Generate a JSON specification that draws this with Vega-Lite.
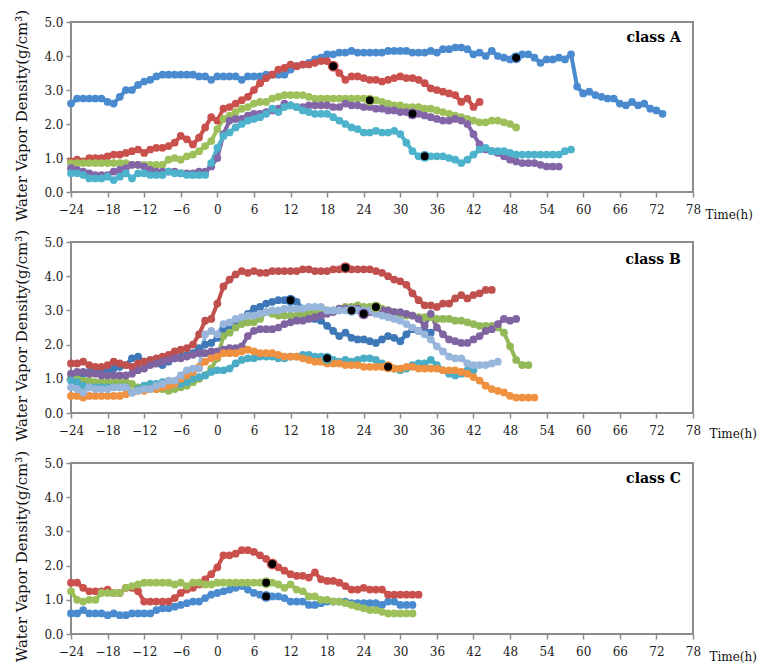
{
"$schema":"https://vega.github.io/schema/vega-lite/v6.json",
"padding":{"left":13,"top":8,"right":5,"bottom":0},
"config":{"font":"DejaVu Serif","view":{"stroke":"#8c8c8c","strokeWidth":2},
"axis":{"grid":false,"domain":false,"tickColor":"#8c8c8c","tickSize":5,"tickWidth":1.5,"labelFont":"DejaVu Serif","labelFontSize":12,"labelColor":"#1a1a1a","titleFont":"DejaVu Serif","titleFontWeight":"normal","titleColor":"#111","titleFontSize":12},
"axisX":{"labelPadding":7},"axisY":{"labelPadding":3}},
"datasets":{
"A":[
{"s":"1","t":-24,"v":2.6},{"s":"1","t":-23,"v":2.75},{"s":"1","t":-22,"v":2.75},{"s":"1","t":-21,"v":2.75},{"s":"1","t":-20,"v":2.75},{"s":"1","t":-19,"v":2.75},{"s":"1","t":-18,"v":2.65},{"s":"1","t":-17,"v":2.6},{"s":"1","t":-16,"v":2.8},{"s":"1","t":-15,"v":3.0},{"s":"1","t":-14,"v":3.0},{"s":"1","t":-13,"v":3.15},{"s":"1","t":-12,"v":3.25},{"s":"1","t":-11,"v":3.3},{"s":"1","t":-10,"v":3.4},{"s":"1","t":-9,"v":3.45},{"s":"1","t":-8,"v":3.45},{"s":"1","t":-7,"v":3.45},{"s":"1","t":-6,"v":3.45},{"s":"1","t":-5,"v":3.45},{"s":"1","t":-4,"v":3.45},{"s":"1","t":-3,"v":3.4},{"s":"1","t":-2,"v":3.4},{"s":"1","t":-1,"v":3.3},
{"s":"1","t":0,"v":3.4},{"s":"1","t":1,"v":3.4},{"s":"1","t":2,"v":3.4},{"s":"1","t":3,"v":3.4},{"s":"1","t":4,"v":3.3},{"s":"1","t":5,"v":3.4},{"s":"1","t":6,"v":3.4},{"s":"1","t":7,"v":3.4},{"s":"1","t":8,"v":3.45},{"s":"1","t":9,"v":3.45},{"s":"1","t":10,"v":3.45},{"s":"1","t":11,"v":3.45},
{"s":"1","t":12,"v":3.6},{"s":"1","t":13,"v":3.7},{"s":"1","t":14,"v":3.75},{"s":"1","t":15,"v":3.8},{"s":"1","t":16,"v":3.9},{"s":"1","t":17,"v":3.95},{"s":"1","t":18,"v":4.05},{"s":"1","t":19,"v":4.05},{"s":"1","t":20,"v":4.1},{"s":"1","t":21,"v":4.1},{"s":"1","t":22,"v":4.15},{"s":"1","t":23,"v":4.1},
{"s":"1","t":24,"v":4.1},{"s":"1","t":25,"v":4.1},{"s":"1","t":26,"v":4.1},{"s":"1","t":27,"v":4.1},{"s":"1","t":28,"v":4.15},{"s":"1","t":29,"v":4.15},{"s":"1","t":30,"v":4.15},{"s":"1","t":31,"v":4.15},{"s":"1","t":32,"v":4.1},{"s":"1","t":33,"v":4.1},{"s":"1","t":34,"v":4.1},{"s":"1","t":35,"v":4.15},
{"s":"1","t":36,"v":4.1},{"s":"1","t":37,"v":4.2},{"s":"1","t":38,"v":4.2},{"s":"1","t":39,"v":4.25},{"s":"1","t":40,"v":4.25},{"s":"1","t":41,"v":4.2},{"s":"1","t":42,"v":4.05},{"s":"1","t":43,"v":4.1},{"s":"1","t":44,"v":4.0},{"s":"1","t":45,"v":4.15},{"s":"1","t":46,"v":4.0},{"s":"1","t":47,"v":3.95},
{"s":"1","t":48,"v":3.9},{"s":"1","t":49,"v":3.95,"m":1},{"s":"1","t":50,"v":4.05},{"s":"1","t":51,"v":4.05},{"s":"1","t":52,"v":3.95},{"s":"1","t":53,"v":3.8},{"s":"1","t":54,"v":3.9},{"s":"1","t":55,"v":3.9},{"s":"1","t":56,"v":3.95},{"s":"1","t":57,"v":3.9},{"s":"1","t":58,"v":4.05},{"s":"1","t":59,"v":3.1},
{"s":"1","t":60,"v":2.9},{"s":"1","t":61,"v":2.95},{"s":"1","t":62,"v":2.85},{"s":"1","t":63,"v":2.8},{"s":"1","t":64,"v":2.75},{"s":"1","t":65,"v":2.75},{"s":"1","t":66,"v":2.6},{"s":"1","t":67,"v":2.55},{"s":"1","t":68,"v":2.65},{"s":"1","t":69,"v":2.55},{"s":"1","t":70,"v":2.6},{"s":"1","t":71,"v":2.45},{"s":"1","t":72,"v":2.4},{"s":"1","t":73,"v":2.3},
{"s":"2","t":-24,"v":0.9},{"s":"2","t":-23,"v":0.95},{"s":"2","t":-22,"v":0.9},{"s":"2","t":-21,"v":1.0},{"s":"2","t":-20,"v":1.0},{"s":"2","t":-19,"v":1.0},{"s":"2","t":-18,"v":1.05},{"s":"2","t":-17,"v":1.1},{"s":"2","t":-16,"v":1.1},{"s":"2","t":-15,"v":1.15},{"s":"2","t":-14,"v":1.2},{"s":"2","t":-13,"v":1.25},{"s":"2","t":-12,"v":1.15},{"s":"2","t":-11,"v":1.25},{"s":"2","t":-10,"v":1.3},{"s":"2","t":-9,"v":1.3},{"s":"2","t":-8,"v":1.35},{"s":"2","t":-7,"v":1.45},{"s":"2","t":-6,"v":1.65},{"s":"2","t":-5,"v":1.55},{"s":"2","t":-4,"v":1.4},{"s":"2","t":-3,"v":1.6},{"s":"2","t":-2,"v":1.9},{"s":"2","t":-1,"v":2.2},
{"s":"2","t":0,"v":2.1},{"s":"2","t":1,"v":2.45},{"s":"2","t":2,"v":2.5},{"s":"2","t":3,"v":2.6},{"s":"2","t":4,"v":2.7},{"s":"2","t":5,"v":2.8},{"s":"2","t":6,"v":3.0},{"s":"2","t":7,"v":3.2},{"s":"2","t":8,"v":3.35},{"s":"2","t":9,"v":3.45},{"s":"2","t":10,"v":3.6},{"s":"2","t":11,"v":3.65},
{"s":"2","t":12,"v":3.75},{"s":"2","t":13,"v":3.7},{"s":"2","t":14,"v":3.75},{"s":"2","t":15,"v":3.75},{"s":"2","t":16,"v":3.8},{"s":"2","t":17,"v":3.85},{"s":"2","t":18,"v":3.85},{"s":"2","t":19,"v":3.7,"m":1},{"s":"2","t":20,"v":3.5},{"s":"2","t":21,"v":3.3},{"s":"2","t":22,"v":3.4},{"s":"2","t":23,"v":3.4},
{"s":"2","t":24,"v":3.35},{"s":"2","t":25,"v":3.3},{"s":"2","t":26,"v":3.3},{"s":"2","t":27,"v":3.25},{"s":"2","t":28,"v":3.3},{"s":"2","t":29,"v":3.35},{"s":"2","t":30,"v":3.4},{"s":"2","t":31,"v":3.35},{"s":"2","t":32,"v":3.35},{"s":"2","t":33,"v":3.3},{"s":"2","t":34,"v":3.2},{"s":"2","t":35,"v":3.05},
{"s":"2","t":36,"v":3.0},{"s":"2","t":37,"v":2.95},{"s":"2","t":38,"v":2.9},{"s":"2","t":39,"v":2.85},{"s":"2","t":40,"v":2.65},{"s":"2","t":41,"v":2.75},{"s":"2","t":42,"v":2.5},{"s":"2","t":43,"v":2.65},
{"s":"3","t":-24,"v":0.85},{"s":"3","t":-23,"v":0.85},{"s":"3","t":-22,"v":0.85},{"s":"3","t":-21,"v":0.85},{"s":"3","t":-20,"v":0.85},{"s":"3","t":-19,"v":0.85},{"s":"3","t":-18,"v":0.85},{"s":"3","t":-17,"v":0.85},{"s":"3","t":-16,"v":0.85},{"s":"3","t":-15,"v":0.85},{"s":"3","t":-14,"v":0.8},{"s":"3","t":-13,"v":0.8},{"s":"3","t":-12,"v":0.8},{"s":"3","t":-11,"v":0.8},{"s":"3","t":-10,"v":0.8},{"s":"3","t":-9,"v":0.8},{"s":"3","t":-8,"v":0.95},{"s":"3","t":-7,"v":1.0},{"s":"3","t":-6,"v":0.95},{"s":"3","t":-5,"v":1.05},{"s":"3","t":-4,"v":1.1},{"s":"3","t":-3,"v":1.2},{"s":"3","t":-2,"v":1.35},{"s":"3","t":-1,"v":1.5},
{"s":"3","t":0,"v":1.85},{"s":"3","t":1,"v":2.15},{"s":"3","t":2,"v":2.25},{"s":"3","t":3,"v":2.35},{"s":"3","t":4,"v":2.45},{"s":"3","t":5,"v":2.5},{"s":"3","t":6,"v":2.6},{"s":"3","t":7,"v":2.65},{"s":"3","t":8,"v":2.65},{"s":"3","t":9,"v":2.75},{"s":"3","t":10,"v":2.8},{"s":"3","t":11,"v":2.85},
{"s":"3","t":12,"v":2.85},{"s":"3","t":13,"v":2.85},{"s":"3","t":14,"v":2.85},{"s":"3","t":15,"v":2.8},{"s":"3","t":16,"v":2.75},{"s":"3","t":17,"v":2.75},{"s":"3","t":18,"v":2.75},{"s":"3","t":19,"v":2.75},{"s":"3","t":20,"v":2.75},{"s":"3","t":21,"v":2.75},{"s":"3","t":22,"v":2.75},{"s":"3","t":23,"v":2.75},
{"s":"3","t":24,"v":2.75},{"s":"3","t":25,"v":2.7,"m":1},{"s":"3","t":26,"v":2.7},{"s":"3","t":27,"v":2.65},{"s":"3","t":28,"v":2.6},{"s":"3","t":29,"v":2.55},{"s":"3","t":30,"v":2.55},{"s":"3","t":31,"v":2.5},{"s":"3","t":32,"v":2.5},{"s":"3","t":33,"v":2.5},{"s":"3","t":34,"v":2.45},{"s":"3","t":35,"v":2.45},
{"s":"3","t":36,"v":2.4},{"s":"3","t":37,"v":2.35},{"s":"3","t":38,"v":2.3},{"s":"3","t":39,"v":2.25},{"s":"3","t":40,"v":2.2},{"s":"3","t":41,"v":2.15},{"s":"3","t":42,"v":2.1},{"s":"3","t":43,"v":2.05},{"s":"3","t":44,"v":2.05},{"s":"3","t":45,"v":2.1},{"s":"3","t":46,"v":2.1},{"s":"3","t":47,"v":2.05},{"s":"3","t":48,"v":2.0},{"s":"3","t":49,"v":1.9},
{"s":"4","t":-24,"v":0.7},{"s":"4","t":-23,"v":0.65},{"s":"4","t":-22,"v":0.6},{"s":"4","t":-21,"v":0.55},{"s":"4","t":-20,"v":0.5},{"s":"4","t":-19,"v":0.5},{"s":"4","t":-18,"v":0.5},{"s":"4","t":-17,"v":0.6},{"s":"4","t":-16,"v":0.65},{"s":"4","t":-15,"v":0.7},{"s":"4","t":-14,"v":0.8},{"s":"4","t":-13,"v":0.8},{"s":"4","t":-12,"v":0.75},{"s":"4","t":-11,"v":0.65},{"s":"4","t":-10,"v":0.6},{"s":"4","t":-9,"v":0.6},{"s":"4","t":-8,"v":0.6},{"s":"4","t":-7,"v":0.6},{"s":"4","t":-6,"v":0.55},{"s":"4","t":-5,"v":0.55},{"s":"4","t":-4,"v":0.55},{"s":"4","t":-3,"v":0.6},{"s":"4","t":-2,"v":0.6},{"s":"4","t":-1,"v":0.75},
{"s":"4","t":0,"v":1.0},{"s":"4","t":1,"v":1.7},{"s":"4","t":2,"v":2.1},{"s":"4","t":3,"v":2.15},{"s":"4","t":4,"v":2.15},{"s":"4","t":5,"v":2.25},{"s":"4","t":6,"v":2.3},{"s":"4","t":7,"v":2.3},{"s":"4","t":8,"v":2.35},{"s":"4","t":9,"v":2.4},{"s":"4","t":10,"v":2.45},{"s":"4","t":11,"v":2.6},
{"s":"4","t":12,"v":2.55},{"s":"4","t":13,"v":2.5},{"s":"4","t":14,"v":2.5},{"s":"4","t":15,"v":2.55},{"s":"4","t":16,"v":2.55},{"s":"4","t":17,"v":2.55},{"s":"4","t":18,"v":2.55},{"s":"4","t":19,"v":2.5},{"s":"4","t":20,"v":2.5},{"s":"4","t":21,"v":2.6},{"s":"4","t":22,"v":2.55},{"s":"4","t":23,"v":2.55},
{"s":"4","t":24,"v":2.5},{"s":"4","t":25,"v":2.5},{"s":"4","t":26,"v":2.45},{"s":"4","t":27,"v":2.45},{"s":"4","t":28,"v":2.4},{"s":"4","t":29,"v":2.4},{"s":"4","t":30,"v":2.35},{"s":"4","t":31,"v":2.35},{"s":"4","t":32,"v":2.3,"m":1},{"s":"4","t":33,"v":2.3},{"s":"4","t":34,"v":2.25},{"s":"4","t":35,"v":2.2},
{"s":"4","t":36,"v":2.15},{"s":"4","t":37,"v":2.1},{"s":"4","t":38,"v":2.1},{"s":"4","t":39,"v":2.15},{"s":"4","t":40,"v":2.1},{"s":"4","t":41,"v":2.0},{"s":"4","t":42,"v":1.7},{"s":"4","t":43,"v":1.4},{"s":"4","t":44,"v":1.25},{"s":"4","t":45,"v":1.2},{"s":"4","t":46,"v":1.15},{"s":"4","t":47,"v":1.05},
{"s":"4","t":48,"v":0.95},{"s":"4","t":49,"v":0.9},{"s":"4","t":50,"v":0.85},{"s":"4","t":51,"v":0.85},{"s":"4","t":52,"v":0.85},{"s":"4","t":53,"v":0.8},{"s":"4","t":54,"v":0.75},{"s":"4","t":55,"v":0.75},{"s":"4","t":56,"v":0.75},
{"s":"5","t":-24,"v":0.55},{"s":"5","t":-23,"v":0.55},{"s":"5","t":-22,"v":0.5},{"s":"5","t":-21,"v":0.4},{"s":"5","t":-20,"v":0.4},{"s":"5","t":-19,"v":0.4},{"s":"5","t":-18,"v":0.45},{"s":"5","t":-17,"v":0.35},{"s":"5","t":-16,"v":0.45},{"s":"5","t":-15,"v":0.55},{"s":"5","t":-14,"v":0.4},{"s":"5","t":-13,"v":0.55},{"s":"5","t":-12,"v":0.55},{"s":"5","t":-11,"v":0.5},{"s":"5","t":-10,"v":0.5},{"s":"5","t":-9,"v":0.5},{"s":"5","t":-8,"v":0.6},{"s":"5","t":-7,"v":0.55},{"s":"5","t":-6,"v":0.55},{"s":"5","t":-5,"v":0.5},{"s":"5","t":-4,"v":0.5},{"s":"5","t":-3,"v":0.5},{"s":"5","t":-2,"v":0.5},{"s":"5","t":-1,"v":0.85},
{"s":"5","t":0,"v":1.3},{"s":"5","t":1,"v":1.65},{"s":"5","t":2,"v":1.75},{"s":"5","t":3,"v":1.9},{"s":"5","t":4,"v":2.0},{"s":"5","t":5,"v":2.1},{"s":"5","t":6,"v":2.15},{"s":"5","t":7,"v":2.2},{"s":"5","t":8,"v":2.3},{"s":"5","t":9,"v":2.45},{"s":"5","t":10,"v":2.35},{"s":"5","t":11,"v":2.5},
{"s":"5","t":12,"v":2.55},{"s":"5","t":13,"v":2.5},{"s":"5","t":14,"v":2.4},{"s":"5","t":15,"v":2.35},{"s":"5","t":16,"v":2.3},{"s":"5","t":17,"v":2.3},{"s":"5","t":18,"v":2.3},{"s":"5","t":19,"v":2.2},{"s":"5","t":20,"v":2.1},{"s":"5","t":21,"v":2.0},{"s":"5","t":22,"v":1.9},{"s":"5","t":23,"v":1.85},
{"s":"5","t":24,"v":1.75},{"s":"5","t":25,"v":1.75},{"s":"5","t":26,"v":1.8},{"s":"5","t":27,"v":1.75},{"s":"5","t":28,"v":1.75},{"s":"5","t":29,"v":1.8},{"s":"5","t":30,"v":1.7},{"s":"5","t":31,"v":1.45},{"s":"5","t":32,"v":1.2},{"s":"5","t":33,"v":1.05},{"s":"5","t":34,"v":1.05,"m":1},{"s":"5","t":35,"v":1.05},
{"s":"5","t":36,"v":1.05},{"s":"5","t":37,"v":1.05},{"s":"5","t":38,"v":1.0},{"s":"5","t":39,"v":0.95},{"s":"5","t":40,"v":0.85},{"s":"5","t":41,"v":0.95},{"s":"5","t":42,"v":1.1},{"s":"5","t":43,"v":1.25},{"s":"5","t":44,"v":1.3},{"s":"5","t":45,"v":1.2},{"s":"5","t":46,"v":1.2},{"s":"5","t":47,"v":1.2},
{"s":"5","t":48,"v":1.15},{"s":"5","t":49,"v":1.1},{"s":"5","t":50,"v":1.1},{"s":"5","t":51,"v":1.1},{"s":"5","t":52,"v":1.1},{"s":"5","t":53,"v":1.1},{"s":"5","t":54,"v":1.1},{"s":"5","t":55,"v":1.1},{"s":"5","t":56,"v":1.1},{"s":"5","t":57,"v":1.2},{"s":"5","t":58,"v":1.25}
],
"B":[
{"s":"1","t":-24,"v":1.0},{"s":"1","t":-23,"v":1.1},{"s":"1","t":-22,"v":1.15},{"s":"1","t":-21,"v":1.2},{"s":"1","t":-20,"v":1.2},{"s":"1","t":-19,"v":1.25},{"s":"1","t":-18,"v":1.25},{"s":"1","t":-17,"v":1.3},{"s":"1","t":-16,"v":1.35},{"s":"1","t":-15,"v":1.4},{"s":"1","t":-14,"v":1.6},{"s":"1","t":-13,"v":1.65},{"s":"1","t":-12,"v":1.5},{"s":"1","t":-11,"v":1.45},{"s":"1","t":-10,"v":1.45},{"s":"1","t":-9,"v":1.4},{"s":"1","t":-8,"v":1.5},{"s":"1","t":-7,"v":1.6},{"s":"1","t":-6,"v":1.65},{"s":"1","t":-5,"v":1.7},{"s":"1","t":-4,"v":1.75},{"s":"1","t":-3,"v":1.9},{"s":"1","t":-2,"v":2.0},{"s":"1","t":-1,"v":2.05},
{"s":"1","t":0,"v":2.2},{"s":"1","t":1,"v":2.45},{"s":"1","t":2,"v":2.55},{"s":"1","t":3,"v":2.65},{"s":"1","t":4,"v":2.75},{"s":"1","t":5,"v":2.9},{"s":"1","t":6,"v":3.05},{"s":"1","t":7,"v":3.1},{"s":"1","t":8,"v":3.2},{"s":"1","t":9,"v":3.25},{"s":"1","t":10,"v":3.3},{"s":"1","t":11,"v":3.3},
{"s":"1","t":12,"v":3.3,"m":1},{"s":"1","t":13,"v":3.25},{"s":"1","t":14,"v":3.05},{"s":"1","t":15,"v":2.85},{"s":"1","t":16,"v":2.75},{"s":"1","t":17,"v":2.7},{"s":"1","t":18,"v":2.55},{"s":"1","t":19,"v":2.4},{"s":"1","t":20,"v":2.25},{"s":"1","t":21,"v":2.35},{"s":"1","t":22,"v":2.2},{"s":"1","t":23,"v":2.15},
{"s":"1","t":24,"v":2.15},{"s":"1","t":25,"v":2.1},{"s":"1","t":26,"v":2.05},{"s":"1","t":27,"v":2.15},{"s":"1","t":28,"v":2.25},{"s":"1","t":29,"v":2.2},{"s":"1","t":30,"v":2.1},{"s":"1","t":31,"v":2.3},{"s":"1","t":32,"v":2.45},{"s":"1","t":33,"v":2.4},{"s":"1","t":34,"v":2.4},{"s":"1","t":35,"v":2.35},
{"s":"2","t":-24,"v":1.45},{"s":"2","t":-23,"v":1.45},{"s":"2","t":-22,"v":1.5},{"s":"2","t":-21,"v":1.4},{"s":"2","t":-20,"v":1.35},{"s":"2","t":-19,"v":1.35},{"s":"2","t":-18,"v":1.4},{"s":"2","t":-17,"v":1.5},{"s":"2","t":-16,"v":1.45},{"s":"2","t":-15,"v":1.4},{"s":"2","t":-14,"v":1.35},{"s":"2","t":-13,"v":1.45},{"s":"2","t":-12,"v":1.5},{"s":"2","t":-11,"v":1.55},{"s":"2","t":-10,"v":1.6},{"s":"2","t":-9,"v":1.65},{"s":"2","t":-8,"v":1.7},{"s":"2","t":-7,"v":1.8},{"s":"2","t":-6,"v":1.85},{"s":"2","t":-5,"v":1.9},{"s":"2","t":-4,"v":2.0},{"s":"2","t":-3,"v":2.3},{"s":"2","t":-2,"v":2.7},{"s":"2","t":-1,"v":2.75},
{"s":"2","t":0,"v":3.2},{"s":"2","t":1,"v":3.7},{"s":"2","t":2,"v":3.9},{"s":"2","t":3,"v":4.05},{"s":"2","t":4,"v":4.15},{"s":"2","t":5,"v":4.1},{"s":"2","t":6,"v":4.15},{"s":"2","t":7,"v":4.1},{"s":"2","t":8,"v":4.1},{"s":"2","t":9,"v":4.15},{"s":"2","t":10,"v":4.15},{"s":"2","t":11,"v":4.15},
{"s":"2","t":12,"v":4.15},{"s":"2","t":13,"v":4.15},{"s":"2","t":14,"v":4.2},{"s":"2","t":15,"v":4.2},{"s":"2","t":16,"v":4.15},{"s":"2","t":17,"v":4.15},{"s":"2","t":18,"v":4.15},{"s":"2","t":19,"v":4.2},{"s":"2","t":20,"v":4.2},{"s":"2","t":21,"v":4.25,"m":1},{"s":"2","t":22,"v":4.2},{"s":"2","t":23,"v":4.2},
{"s":"2","t":24,"v":4.2},{"s":"2","t":25,"v":4.2},{"s":"2","t":26,"v":4.15},{"s":"2","t":27,"v":4.1},{"s":"2","t":28,"v":4.0},{"s":"2","t":29,"v":3.9},{"s":"2","t":30,"v":3.85},{"s":"2","t":31,"v":3.75},{"s":"2","t":32,"v":3.5},{"s":"2","t":33,"v":3.3},{"s":"2","t":34,"v":3.15},{"s":"2","t":35,"v":3.15},
{"s":"2","t":36,"v":3.1},{"s":"2","t":37,"v":3.2},{"s":"2","t":38,"v":3.2},{"s":"2","t":39,"v":3.35},{"s":"2","t":40,"v":3.45},{"s":"2","t":41,"v":3.35},{"s":"2","t":42,"v":3.45},{"s":"2","t":43,"v":3.5},{"s":"2","t":44,"v":3.6},{"s":"2","t":45,"v":3.6},
{"s":"3","t":-24,"v":1.0},{"s":"3","t":-23,"v":1.0},{"s":"3","t":-22,"v":0.95},{"s":"3","t":-21,"v":0.95},{"s":"3","t":-20,"v":0.9},{"s":"3","t":-19,"v":0.9},{"s":"3","t":-18,"v":0.9},{"s":"3","t":-17,"v":0.9},{"s":"3","t":-16,"v":0.9},{"s":"3","t":-15,"v":0.9},{"s":"3","t":-14,"v":0.85},{"s":"3","t":-13,"v":0.75},{"s":"3","t":-12,"v":0.7},{"s":"3","t":-11,"v":0.7},{"s":"3","t":-10,"v":0.7},{"s":"3","t":-9,"v":0.7},{"s":"3","t":-8,"v":0.65},{"s":"3","t":-7,"v":0.7},{"s":"3","t":-6,"v":0.75},{"s":"3","t":-5,"v":0.8},{"s":"3","t":-4,"v":0.9},{"s":"3","t":-3,"v":1.0},{"s":"3","t":-2,"v":1.1},{"s":"3","t":-1,"v":1.3},
{"s":"3","t":0,"v":1.6},{"s":"3","t":1,"v":2.25},{"s":"3","t":2,"v":2.35},{"s":"3","t":3,"v":2.5},{"s":"3","t":4,"v":2.6},{"s":"3","t":5,"v":2.65},{"s":"3","t":6,"v":2.65},{"s":"3","t":7,"v":2.75},{"s":"3","t":8,"v":2.95},{"s":"3","t":9,"v":2.9},{"s":"3","t":10,"v":2.85},{"s":"3","t":11,"v":2.85},
{"s":"3","t":12,"v":2.85},{"s":"3","t":13,"v":2.85},{"s":"3","t":14,"v":2.9},{"s":"3","t":15,"v":2.95},{"s":"3","t":16,"v":2.95},{"s":"3","t":17,"v":3.0},{"s":"3","t":18,"v":3.0},{"s":"3","t":19,"v":3.0},{"s":"3","t":20,"v":3.05},{"s":"3","t":21,"v":3.1},{"s":"3","t":22,"v":3.1},{"s":"3","t":23,"v":3.15},
{"s":"3","t":24,"v":3.1},{"s":"3","t":25,"v":3.1},{"s":"3","t":26,"v":3.1,"m":1},{"s":"3","t":27,"v":3.05},{"s":"3","t":28,"v":3.0},{"s":"3","t":29,"v":2.95},{"s":"3","t":30,"v":2.9},{"s":"3","t":31,"v":2.85},{"s":"3","t":32,"v":2.85},{"s":"3","t":33,"v":2.8},{"s":"3","t":34,"v":2.8},{"s":"3","t":35,"v":2.8},
{"s":"3","t":36,"v":2.75},{"s":"3","t":37,"v":2.75},{"s":"3","t":38,"v":2.75},{"s":"3","t":39,"v":2.7},{"s":"3","t":40,"v":2.7},{"s":"3","t":41,"v":2.65},{"s":"3","t":42,"v":2.6},{"s":"3","t":43,"v":2.55},{"s":"3","t":44,"v":2.55},{"s":"3","t":45,"v":2.55},{"s":"3","t":46,"v":2.5},{"s":"3","t":47,"v":2.35},
{"s":"3","t":48,"v":1.95},{"s":"3","t":49,"v":1.55},{"s":"3","t":50,"v":1.4},{"s":"3","t":51,"v":1.4},
{"s":"4","t":-24,"v":1.15},{"s":"4","t":-23,"v":1.2},{"s":"4","t":-22,"v":1.2},{"s":"4","t":-21,"v":1.15},{"s":"4","t":-20,"v":1.15},{"s":"4","t":-19,"v":1.1},{"s":"4","t":-18,"v":1.1},{"s":"4","t":-17,"v":1.1},{"s":"4","t":-16,"v":1.1},{"s":"4","t":-15,"v":1.1},{"s":"4","t":-14,"v":1.15},{"s":"4","t":-13,"v":1.25},{"s":"4","t":-12,"v":1.3},{"s":"4","t":-11,"v":1.4},{"s":"4","t":-10,"v":1.45},{"s":"4","t":-9,"v":1.5},{"s":"4","t":-8,"v":1.55},{"s":"4","t":-7,"v":1.6},{"s":"4","t":-6,"v":1.6},{"s":"4","t":-5,"v":1.65},{"s":"4","t":-4,"v":1.7},{"s":"4","t":-3,"v":1.75},{"s":"4","t":-2,"v":1.75},{"s":"4","t":-1,"v":1.8},
{"s":"4","t":0,"v":1.8},{"s":"4","t":1,"v":1.85},{"s":"4","t":2,"v":1.9},{"s":"4","t":3,"v":1.9},{"s":"4","t":4,"v":1.95},{"s":"4","t":5,"v":2.25},{"s":"4","t":6,"v":2.4},{"s":"4","t":7,"v":2.45},{"s":"4","t":8,"v":2.45},{"s":"4","t":9,"v":2.45},{"s":"4","t":10,"v":2.5},{"s":"4","t":11,"v":2.6},
{"s":"4","t":12,"v":2.65},{"s":"4","t":13,"v":2.7},{"s":"4","t":14,"v":2.7},{"s":"4","t":15,"v":2.75},{"s":"4","t":16,"v":2.8},{"s":"4","t":17,"v":2.85},{"s":"4","t":18,"v":2.9},{"s":"4","t":19,"v":2.95},{"s":"4","t":20,"v":3.05},{"s":"4","t":21,"v":3.05},{"s":"4","t":22,"v":3.05},{"s":"4","t":23,"v":3.05},
{"s":"4","t":24,"v":2.9,"m":1},{"s":"4","t":25,"v":2.95},{"s":"4","t":26,"v":3.0},{"s":"4","t":27,"v":3.0},{"s":"4","t":28,"v":3.0},{"s":"4","t":29,"v":2.95},{"s":"4","t":30,"v":2.95},{"s":"4","t":31,"v":2.9},{"s":"4","t":32,"v":2.85},{"s":"4","t":33,"v":2.75},{"s":"4","t":34,"v":2.55},{"s":"4","t":35,"v":2.9},
{"s":"4","t":36,"v":2.5},{"s":"4","t":37,"v":2.3},{"s":"4","t":38,"v":2.15},{"s":"4","t":39,"v":2.1},{"s":"4","t":40,"v":2.05},{"s":"4","t":41,"v":2.05},{"s":"4","t":42,"v":2.15},{"s":"4","t":43,"v":2.25},{"s":"4","t":44,"v":2.4},{"s":"4","t":45,"v":2.45},{"s":"4","t":46,"v":2.6},{"s":"4","t":47,"v":2.75},{"s":"4","t":48,"v":2.7},{"s":"4","t":49,"v":2.75},
{"s":"5","t":-24,"v":0.95},{"s":"5","t":-23,"v":0.9},{"s":"5","t":-22,"v":0.8},{"s":"5","t":-21,"v":0.75},{"s":"5","t":-20,"v":0.75},{"s":"5","t":-19,"v":0.75},{"s":"5","t":-18,"v":0.75},{"s":"5","t":-17,"v":0.75},{"s":"5","t":-16,"v":0.75},{"s":"5","t":-15,"v":0.75},{"s":"5","t":-14,"v":0.6},{"s":"5","t":-13,"v":0.7},{"s":"5","t":-12,"v":0.8},{"s":"5","t":-11,"v":0.85},{"s":"5","t":-10,"v":0.85},{"s":"5","t":-9,"v":0.9},{"s":"5","t":-8,"v":0.9},{"s":"5","t":-7,"v":0.85},{"s":"5","t":-6,"v":0.85},{"s":"5","t":-5,"v":0.9},{"s":"5","t":-4,"v":1.0},{"s":"5","t":-3,"v":1.05},{"s":"5","t":-2,"v":1.1},{"s":"5","t":-1,"v":1.2},
{"s":"5","t":0,"v":1.25},{"s":"5","t":1,"v":1.25},{"s":"5","t":2,"v":1.3},{"s":"5","t":3,"v":1.45},{"s":"5","t":4,"v":1.55},{"s":"5","t":5,"v":1.6},{"s":"5","t":6,"v":1.6},{"s":"5","t":7,"v":1.65},{"s":"5","t":8,"v":1.65},{"s":"5","t":9,"v":1.65},{"s":"5","t":10,"v":1.6},{"s":"5","t":11,"v":1.6},
{"s":"5","t":12,"v":1.65},{"s":"5","t":13,"v":1.65},{"s":"5","t":14,"v":1.7},{"s":"5","t":15,"v":1.7},{"s":"5","t":16,"v":1.65},{"s":"5","t":17,"v":1.65},{"s":"5","t":18,"v":1.6,"m":1},{"s":"5","t":19,"v":1.55},{"s":"5","t":20,"v":1.5},{"s":"5","t":21,"v":1.55},{"s":"5","t":22,"v":1.5},{"s":"5","t":23,"v":1.55},
{"s":"5","t":24,"v":1.6},{"s":"5","t":25,"v":1.6},{"s":"5","t":26,"v":1.55},{"s":"5","t":27,"v":1.45},{"s":"5","t":28,"v":1.35},{"s":"5","t":29,"v":1.3},{"s":"5","t":30,"v":1.25},{"s":"5","t":31,"v":1.3},{"s":"5","t":32,"v":1.4},{"s":"5","t":33,"v":1.45},{"s":"5","t":34,"v":1.45},{"s":"5","t":35,"v":1.55},
{"s":"5","t":36,"v":1.4},{"s":"5","t":37,"v":1.25},{"s":"5","t":38,"v":1.15},{"s":"5","t":39,"v":1.1},{"s":"5","t":40,"v":1.15},{"s":"5","t":41,"v":1.25},{"s":"5","t":42,"v":1.25},
{"s":"6","t":-24,"v":0.5},{"s":"6","t":-23,"v":0.5},{"s":"6","t":-22,"v":0.45},{"s":"6","t":-21,"v":0.5},{"s":"6","t":-20,"v":0.5},{"s":"6","t":-19,"v":0.5},{"s":"6","t":-18,"v":0.5},{"s":"6","t":-17,"v":0.5},{"s":"6","t":-16,"v":0.5},{"s":"6","t":-15,"v":0.55},{"s":"6","t":-14,"v":0.6},{"s":"6","t":-13,"v":0.65},{"s":"6","t":-12,"v":0.65},{"s":"6","t":-11,"v":0.7},{"s":"6","t":-10,"v":0.7},{"s":"6","t":-9,"v":0.75},{"s":"6","t":-8,"v":0.8},{"s":"6","t":-7,"v":0.85},{"s":"6","t":-6,"v":1.0},{"s":"6","t":-5,"v":1.1},{"s":"6","t":-4,"v":1.2},{"s":"6","t":-3,"v":1.35},{"s":"6","t":-2,"v":1.5},{"s":"6","t":-1,"v":1.6},
{"s":"6","t":0,"v":1.65},{"s":"6","t":1,"v":1.75},{"s":"6","t":2,"v":1.75},{"s":"6","t":3,"v":1.75},{"s":"6","t":4,"v":1.8},{"s":"6","t":5,"v":1.85},{"s":"6","t":6,"v":1.8},{"s":"6","t":7,"v":1.75},{"s":"6","t":8,"v":1.75},{"s":"6","t":9,"v":1.75},{"s":"6","t":10,"v":1.7},{"s":"6","t":11,"v":1.65},
{"s":"6","t":12,"v":1.65},{"s":"6","t":13,"v":1.65},{"s":"6","t":14,"v":1.6},{"s":"6","t":15,"v":1.55},{"s":"6","t":16,"v":1.5},{"s":"6","t":17,"v":1.5},{"s":"6","t":18,"v":1.45},{"s":"6","t":19,"v":1.45},{"s":"6","t":20,"v":1.45},{"s":"6","t":21,"v":1.4},{"s":"6","t":22,"v":1.4},{"s":"6","t":23,"v":1.4},
{"s":"6","t":24,"v":1.35},{"s":"6","t":25,"v":1.35},{"s":"6","t":26,"v":1.35},{"s":"6","t":27,"v":1.35},{"s":"6","t":28,"v":1.35,"m":1},{"s":"6","t":29,"v":1.3},{"s":"6","t":30,"v":1.3},{"s":"6","t":31,"v":1.35},{"s":"6","t":32,"v":1.35},{"s":"6","t":33,"v":1.3},{"s":"6","t":34,"v":1.3},{"s":"6","t":35,"v":1.3},
{"s":"6","t":36,"v":1.3},{"s":"6","t":37,"v":1.25},{"s":"6","t":38,"v":1.25},{"s":"6","t":39,"v":1.25},{"s":"6","t":40,"v":1.2},{"s":"6","t":41,"v":1.15},{"s":"6","t":42,"v":1.05},{"s":"6","t":43,"v":0.95},{"s":"6","t":44,"v":0.8},{"s":"6","t":45,"v":0.7},{"s":"6","t":46,"v":0.65},{"s":"6","t":47,"v":0.6},
{"s":"6","t":48,"v":0.5},{"s":"6","t":49,"v":0.45},{"s":"6","t":50,"v":0.45},{"s":"6","t":51,"v":0.45},{"s":"6","t":52,"v":0.45},
{"s":"7","t":-24,"v":0.75},{"s":"7","t":-23,"v":0.7},{"s":"7","t":-22,"v":0.6},{"s":"7","t":-21,"v":0.75},{"s":"7","t":-20,"v":0.7},{"s":"7","t":-19,"v":0.7},{"s":"7","t":-18,"v":0.7},{"s":"7","t":-17,"v":0.75},{"s":"7","t":-16,"v":0.75},{"s":"7","t":-15,"v":0.75},{"s":"7","t":-14,"v":0.6},{"s":"7","t":-13,"v":0.65},{"s":"7","t":-12,"v":0.7},{"s":"7","t":-11,"v":0.7},{"s":"7","t":-10,"v":0.8},{"s":"7","t":-9,"v":0.85},{"s":"7","t":-8,"v":0.95},{"s":"7","t":-7,"v":0.95},{"s":"7","t":-6,"v":1.1},{"s":"7","t":-5,"v":1.25},{"s":"7","t":-4,"v":1.3},{"s":"7","t":-3,"v":1.3},{"s":"7","t":-2,"v":2.3},{"s":"7","t":-1,"v":2.4},
{"s":"7","t":0,"v":2.3},{"s":"7","t":1,"v":2.6},{"s":"7","t":2,"v":2.65},{"s":"7","t":3,"v":2.75},{"s":"7","t":4,"v":2.8},{"s":"7","t":5,"v":2.85},{"s":"7","t":6,"v":2.85},{"s":"7","t":7,"v":2.9},{"s":"7","t":8,"v":2.95},{"s":"7","t":9,"v":3.0},{"s":"7","t":10,"v":3.0},{"s":"7","t":11,"v":3.05},
{"s":"7","t":12,"v":3.05},{"s":"7","t":13,"v":3.05},{"s":"7","t":14,"v":3.05},{"s":"7","t":15,"v":3.1},{"s":"7","t":16,"v":3.1},{"s":"7","t":17,"v":3.1},{"s":"7","t":18,"v":3.0},{"s":"7","t":19,"v":3.0},{"s":"7","t":20,"v":3.0},{"s":"7","t":21,"v":3.0},{"s":"7","t":22,"v":3.0,"m":1},{"s":"7","t":23,"v":3.0},
{"s":"7","t":24,"v":3.0},{"s":"7","t":25,"v":3.0},{"s":"7","t":26,"v":2.9},{"s":"7","t":27,"v":2.85},{"s":"7","t":28,"v":2.8},{"s":"7","t":29,"v":2.75},{"s":"7","t":30,"v":2.7},{"s":"7","t":31,"v":2.6},{"s":"7","t":32,"v":2.5},{"s":"7","t":33,"v":2.4},{"s":"7","t":34,"v":2.3},{"s":"7","t":35,"v":2.15},
{"s":"7","t":36,"v":1.95},{"s":"7","t":37,"v":1.8},{"s":"7","t":38,"v":1.65},{"s":"7","t":39,"v":1.6},{"s":"7","t":40,"v":1.6},{"s":"7","t":41,"v":1.45},{"s":"7","t":42,"v":1.4},{"s":"7","t":43,"v":1.4},{"s":"7","t":44,"v":1.4},{"s":"7","t":45,"v":1.45},{"s":"7","t":46,"v":1.5}
],
"C":[
{"s":"1","t":-24,"v":0.6},{"s":"1","t":-23,"v":0.6},{"s":"1","t":-22,"v":0.7},{"s":"1","t":-21,"v":0.6},{"s":"1","t":-20,"v":0.6},{"s":"1","t":-19,"v":0.6},{"s":"1","t":-18,"v":0.55},{"s":"1","t":-17,"v":0.6},{"s":"1","t":-16,"v":0.55},{"s":"1","t":-15,"v":0.55},{"s":"1","t":-14,"v":0.6},{"s":"1","t":-13,"v":0.6},{"s":"1","t":-12,"v":0.6},{"s":"1","t":-11,"v":0.6},{"s":"1","t":-10,"v":0.7},{"s":"1","t":-9,"v":0.75},{"s":"1","t":-8,"v":0.75},{"s":"1","t":-7,"v":0.8},{"s":"1","t":-6,"v":0.85},{"s":"1","t":-5,"v":0.9},{"s":"1","t":-4,"v":0.95},{"s":"1","t":-3,"v":0.95},{"s":"1","t":-2,"v":1.05},{"s":"1","t":-1,"v":1.15},
{"s":"1","t":0,"v":1.2},{"s":"1","t":1,"v":1.25},{"s":"1","t":2,"v":1.3},{"s":"1","t":3,"v":1.35},{"s":"1","t":4,"v":1.4},{"s":"1","t":5,"v":1.3},{"s":"1","t":6,"v":1.2},{"s":"1","t":7,"v":1.15},{"s":"1","t":8,"v":1.1,"m":1},{"s":"1","t":9,"v":1.1},{"s":"1","t":10,"v":1.1},{"s":"1","t":11,"v":1.05},
{"s":"1","t":12,"v":0.95},{"s":"1","t":13,"v":0.95},{"s":"1","t":14,"v":0.95},{"s":"1","t":15,"v":0.85},{"s":"1","t":16,"v":0.85},{"s":"1","t":17,"v":0.9},{"s":"1","t":18,"v":0.95},{"s":"1","t":19,"v":0.95},{"s":"1","t":20,"v":0.95},{"s":"1","t":21,"v":0.95},{"s":"1","t":22,"v":0.9},{"s":"1","t":23,"v":0.9},
{"s":"1","t":24,"v":0.9},{"s":"1","t":25,"v":0.9},{"s":"1","t":26,"v":0.9},{"s":"1","t":27,"v":0.85},{"s":"1","t":28,"v":0.95},{"s":"1","t":29,"v":0.95},{"s":"1","t":30,"v":0.85},{"s":"1","t":31,"v":0.85},{"s":"1","t":32,"v":0.85},
{"s":"2","t":-24,"v":1.5},{"s":"2","t":-23,"v":1.5},{"s":"2","t":-22,"v":1.35},{"s":"2","t":-21,"v":1.25},{"s":"2","t":-20,"v":1.25},{"s":"2","t":-19,"v":1.25},{"s":"2","t":-18,"v":1.3},{"s":"2","t":-17,"v":1.2},{"s":"2","t":-16,"v":1.2},{"s":"2","t":-15,"v":1.35},{"s":"2","t":-14,"v":1.35},{"s":"2","t":-13,"v":1.25},{"s":"2","t":-12,"v":0.95},{"s":"2","t":-11,"v":0.95},{"s":"2","t":-10,"v":0.95},{"s":"2","t":-9,"v":0.95},{"s":"2","t":-8,"v":0.95},{"s":"2","t":-7,"v":1.05},{"s":"2","t":-6,"v":1.2},{"s":"2","t":-5,"v":1.3},{"s":"2","t":-4,"v":1.35},{"s":"2","t":-3,"v":1.45},{"s":"2","t":-2,"v":1.6},{"s":"2","t":-1,"v":1.75},
{"s":"2","t":0,"v":1.95},{"s":"2","t":1,"v":2.3},{"s":"2","t":2,"v":2.3},{"s":"2","t":3,"v":2.35},{"s":"2","t":4,"v":2.45},{"s":"2","t":5,"v":2.45},{"s":"2","t":6,"v":2.4},{"s":"2","t":7,"v":2.3},{"s":"2","t":8,"v":2.2},{"s":"2","t":9,"v":2.05,"m":1},{"s":"2","t":10,"v":1.95},{"s":"2","t":11,"v":1.85},
{"s":"2","t":12,"v":1.75},{"s":"2","t":13,"v":1.7},{"s":"2","t":14,"v":1.7},{"s":"2","t":15,"v":1.65},{"s":"2","t":16,"v":1.8},{"s":"2","t":17,"v":1.6},{"s":"2","t":18,"v":1.55},{"s":"2","t":19,"v":1.55},{"s":"2","t":20,"v":1.5},{"s":"2","t":21,"v":1.4},{"s":"2","t":22,"v":1.3},{"s":"2","t":23,"v":1.3},
{"s":"2","t":24,"v":1.35},{"s":"2","t":25,"v":1.3},{"s":"2","t":26,"v":1.3},{"s":"2","t":27,"v":1.3},{"s":"2","t":28,"v":1.15},{"s":"2","t":29,"v":1.15},{"s":"2","t":30,"v":1.15},{"s":"2","t":31,"v":1.15},{"s":"2","t":32,"v":1.15},{"s":"2","t":33,"v":1.15},
{"s":"3","t":-24,"v":1.25},{"s":"3","t":-23,"v":1.0},{"s":"3","t":-22,"v":0.95},{"s":"3","t":-21,"v":1.0},{"s":"3","t":-20,"v":1.0},{"s":"3","t":-19,"v":1.2},{"s":"3","t":-18,"v":1.2},{"s":"3","t":-17,"v":1.2},{"s":"3","t":-16,"v":1.2},{"s":"3","t":-15,"v":1.35},{"s":"3","t":-14,"v":1.4},{"s":"3","t":-13,"v":1.45},{"s":"3","t":-12,"v":1.5},{"s":"3","t":-11,"v":1.5},{"s":"3","t":-10,"v":1.5},{"s":"3","t":-9,"v":1.5},{"s":"3","t":-8,"v":1.5},{"s":"3","t":-7,"v":1.45},{"s":"3","t":-6,"v":1.5},{"s":"3","t":-5,"v":1.4},{"s":"3","t":-4,"v":1.5},{"s":"3","t":-3,"v":1.5},{"s":"3","t":-2,"v":1.45},{"s":"3","t":-1,"v":1.45},
{"s":"3","t":0,"v":1.5},{"s":"3","t":1,"v":1.5},{"s":"3","t":2,"v":1.5},{"s":"3","t":3,"v":1.5},{"s":"3","t":4,"v":1.5},{"s":"3","t":5,"v":1.5},{"s":"3","t":6,"v":1.5},{"s":"3","t":7,"v":1.5},{"s":"3","t":8,"v":1.5,"m":1},{"s":"3","t":9,"v":1.5},{"s":"3","t":10,"v":1.45},{"s":"3","t":11,"v":1.35},
{"s":"3","t":12,"v":1.45},{"s":"3","t":13,"v":1.3},{"s":"3","t":14,"v":1.25},{"s":"3","t":15,"v":1.1},{"s":"3","t":16,"v":1.1},{"s":"3","t":17,"v":1.0},{"s":"3","t":18,"v":1.0},{"s":"3","t":19,"v":0.95},{"s":"3","t":20,"v":0.95},{"s":"3","t":21,"v":0.9},{"s":"3","t":22,"v":0.85},{"s":"3","t":23,"v":0.8},
{"s":"3","t":24,"v":0.75},{"s":"3","t":25,"v":0.7},{"s":"3","t":26,"v":0.7},{"s":"3","t":27,"v":0.65},{"s":"3","t":28,"v":0.6},{"s":"3","t":29,"v":0.6},{"s":"3","t":30,"v":0.6},{"s":"3","t":31,"v":0.6},{"s":"3","t":32,"v":0.6}
]},
"vconcat":[
{"width":622,"height":170,"data":{"name":"A"},
"layer":[
{"mark":{"type":"line","strokeWidth":4,"point":{"filled":true,"size":60,"opacity":1}},"encoding":{
"x":{"field":"t","type":"quantitative","scale":{"domain":[-24,78],"nice":false,"zero":false},"axis":{"values":[-24,-18,-12,-6,0,6,12,18,24,30,36,42,48,54,60,66,72,78],"title":"Time(h)","titleX":634,"titleY":26,"titleAlign":"left","titleBaseline":"alphabetic","labelFlush":false,"labelOverlap":false}},
"y":{"field":"v","type":"quantitative","scale":{"domain":[0,5],"nice":false},"axis":{"values":[0,1,2,3,4,5],"format":".1f","title":"Water Vapor Density(g/cm³)","titleFontSize":15,"titlePadding":14,"titleY":93}},
"color":{"field":"s","type":"nominal","scale":{"domain":["1","2","3","4","5"],"range":["#4a8bd0","#c9504c","#9dc05a","#8466a8","#4db3cc"]},"legend":null}}},
{"transform":[{"filter":"datum.m == 1"}],"mark":{"type":"point","filled":true,"fill":"#000","size":90,"strokeWidth":1.5,"opacity":1},"encoding":{
"x":{"field":"t","type":"quantitative","axis":{"values":[-24,-18,-12,-6,0,6,12,18,24,30,36,42,48,54,60,66,72,78],"title":"Time(h)","titleX":634,"titleY":26,"titleAlign":"left","titleBaseline":"alphabetic","labelFlush":false,"labelOverlap":false}},
"y":{"field":"v","type":"quantitative","axis":{"values":[0,1,2,3,4,5],"format":".1f","title":"Water Vapor Density(g/cm³)","titleFontSize":15,"titlePadding":14,"titleY":93}},
"stroke":{"field":"s","type":"nominal","scale":{"domain":["1","2","3","4","5"],"range":["#4a8bd0","#c9504c","#9dc05a","#8466a8","#4db3cc"]},"legend":null}}},
{"transform":[{"aggregate":[{"op":"count","as":"n"}]}],"mark":{"type":"text","text":"class A","align":"right","baseline":"middle","font":"DejaVu Serif","fontWeight":"bold","fontSize":14,"color":"#000"},"encoding":{
"x":{"datum":76,"type":"quantitative","axis":{"values":[-24,-18,-12,-6,0,6,12,18,24,30,36,42,48,54,60,66,72,78],"title":"Time(h)","titleX":634,"titleY":26,"titleAlign":"left","titleBaseline":"alphabetic","labelFlush":false,"labelOverlap":false}},
"y":{"datum":4.52,"type":"quantitative","axis":{"values":[0,1,2,3,4,5],"format":".1f","title":"Water Vapor Density(g/cm³)","titleFontSize":15,"titlePadding":14,"titleY":93}}}}
]},
{"width":622,"height":171,"data":{"name":"B"},
"layer":[
{"mark":{"type":"line","strokeWidth":4,"point":{"filled":true,"size":60,"opacity":1}},"encoding":{
"x":{"field":"t","type":"quantitative","scale":{"domain":[-24,78],"nice":false,"zero":false},"axis":{"values":[-24,-18,-12,-6,0,6,12,18,24,30,36,42,48,54,60,66,72,78],"title":"Time(h)","titleX":638,"titleY":24,"titleAlign":"left","titleBaseline":"alphabetic","labelFlush":false,"labelOverlap":false}},
"y":{"field":"v","type":"quantitative","scale":{"domain":[0,5],"nice":false},"axis":{"values":[0,1,2,3,4,5],"format":".1f","title":"Water Vapor Density(g/cm³)","titleFontSize":15,"titlePadding":14,"titleY":93}},
"color":{"field":"s","type":"nominal","scale":{"domain":["1","2","3","4","5","6","7"],"range":["#3f78b8","#c0504d","#93b857","#8064a2","#4bacc6","#ef9140","#98b6dc"]},"legend":null}}},
{"transform":[{"filter":"datum.m == 1"}],"mark":{"type":"point","filled":true,"fill":"#000","size":90,"strokeWidth":1.5,"opacity":1},"encoding":{
"x":{"field":"t","type":"quantitative","axis":{"values":[-24,-18,-12,-6,0,6,12,18,24,30,36,42,48,54,60,66,72,78],"title":"Time(h)","titleX":638,"titleY":24,"titleAlign":"left","titleBaseline":"alphabetic","labelFlush":false,"labelOverlap":false}},
"y":{"field":"v","type":"quantitative","axis":{"values":[0,1,2,3,4,5],"format":".1f","title":"Water Vapor Density(g/cm³)","titleFontSize":15,"titlePadding":14,"titleY":93}},
"stroke":{"field":"s","type":"nominal","scale":{"domain":["1","2","3","4","5","6","7"],"range":["#3f78b8","#c0504d","#93b857","#8064a2","#4bacc6","#ef9140","#98b6dc"]},"legend":null}}},
{"transform":[{"aggregate":[{"op":"count","as":"n"}]}],"mark":{"type":"text","text":"class B","align":"right","baseline":"middle","font":"DejaVu Serif","fontWeight":"bold","fontSize":14,"color":"#000"},"encoding":{
"x":{"datum":76,"type":"quantitative","axis":{"values":[-24,-18,-12,-6,0,6,12,18,24,30,36,42,48,54,60,66,72,78],"title":"Time(h)","titleX":638,"titleY":24,"titleAlign":"left","titleBaseline":"alphabetic","labelFlush":false,"labelOverlap":false}},
"y":{"datum":4.47,"type":"quantitative","axis":{"values":[0,1,2,3,4,5],"format":".1f","title":"Water Vapor Density(g/cm³)","titleFontSize":15,"titlePadding":14,"titleY":93}}}}
]},
{"width":622,"height":171,"data":{"name":"C"},
"layer":[
{"mark":{"type":"line","strokeWidth":4,"point":{"filled":true,"size":60,"opacity":1}},"encoding":{
"x":{"field":"t","type":"quantitative","scale":{"domain":[-24,78],"nice":false,"zero":false},"axis":{"values":[-24,-18,-12,-6,0,6,12,18,24,30,36,42,48,54,60,66,72,78],"title":"Time(h)","titleX":638,"titleY":26,"titleAlign":"left","titleBaseline":"alphabetic","labelFlush":false,"labelOverlap":false}},
"y":{"field":"v","type":"quantitative","scale":{"domain":[0,5],"nice":false},"axis":{"values":[0,1,2,3,4,5],"format":".1f","title":"Water Vapor Density(g/cm³)","titleFontSize":15,"titlePadding":14,"titleY":93}},
"color":{"field":"s","type":"nominal","scale":{"domain":["1","2","3"],"range":["#4a8bd0","#c9504c","#9dc05a"]},"legend":null}}},
{"transform":[{"filter":"datum.m == 1"}],"mark":{"type":"point","filled":true,"fill":"#000","size":90,"strokeWidth":1.5,"opacity":1},"encoding":{
"x":{"field":"t","type":"quantitative","axis":{"values":[-24,-18,-12,-6,0,6,12,18,24,30,36,42,48,54,60,66,72,78],"title":"Time(h)","titleX":638,"titleY":26,"titleAlign":"left","titleBaseline":"alphabetic","labelFlush":false,"labelOverlap":false}},
"y":{"field":"v","type":"quantitative","axis":{"values":[0,1,2,3,4,5],"format":".1f","title":"Water Vapor Density(g/cm³)","titleFontSize":15,"titlePadding":14,"titleY":93}},
"stroke":{"field":"s","type":"nominal","scale":{"domain":["1","2","3"],"range":["#4a8bd0","#c9504c","#9dc05a"]},"legend":null}}},
{"transform":[{"aggregate":[{"op":"count","as":"n"}]}],"mark":{"type":"text","text":"class C","align":"right","baseline":"middle","font":"DejaVu Serif","fontWeight":"bold","fontSize":14,"color":"#000"},"encoding":{
"x":{"datum":76,"type":"quantitative","axis":{"values":[-24,-18,-12,-6,0,6,12,18,24,30,36,42,48,54,60,66,72,78],"title":"Time(h)","titleX":638,"titleY":26,"titleAlign":"left","titleBaseline":"alphabetic","labelFlush":false,"labelOverlap":false}},
"y":{"datum":4.52,"type":"quantitative","axis":{"values":[0,1,2,3,4,5],"format":".1f","title":"Water Vapor Density(g/cm³)","titleFontSize":15,"titlePadding":14,"titleY":93}}}}
]}
],
"spacing":50,
"bounds":"flush",
"resolve":{"scale":{"color":"independent","stroke":"independent"}}
}
